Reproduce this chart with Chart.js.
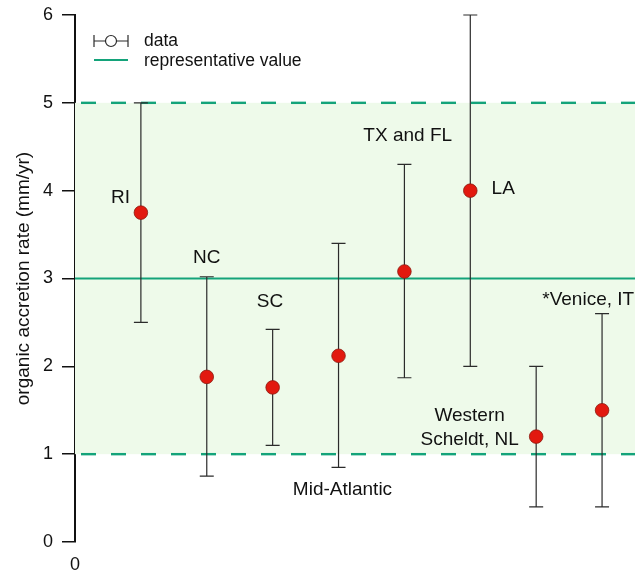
<!DOCTYPE html>
<html lang="en">
<head>
<meta charset="UTF-8">
<title>Organic accretion rate</title>
<script src="https://cdn.jsdelivr.net/npm/chart.js"></script>
<style>
  html, body { margin: 0; padding: 0; background: #fff; }
  #wrap { width: 639px; height: 571px; }
</style>
</head>
<body>
<div id="wrap"><canvas id="accretionChart" width="639" height="571"></canvas></div>
<script>
  // sites, plotted at x = 1..8
  const sites = ['RI', 'NC', 'SC', 'Mid-Atlantic', 'TX and FL', 'LA', 'Western\nScheldt, NL', '*Venice, IT'];
  const rates = [3.75, 1.88, 1.76, 2.12, 3.08, 4.0, 1.2, 1.5];
  const lowBars = [2.5, 0.75, 1.1, 0.85, 1.87, 2.0, 0.4, 0.4];
  const highBars = [5.0, 3.02, 2.42, 3.4, 4.3, 6.0, 2.0, 2.6];
  const representative = 3;
  const rangeLow = 1;
  const rangeHigh = 5;
  const yTicks = [0, 1, 2, 3, 4, 5, 6];

  const FONT = "'Liberation Sans', Arial, Helvetica, sans-serif";
  const TEAL = '#14a37a';
  const BAR = '#2b2b2b';

  // where each site name sits (data units, text centred)
  const labelSpots = [[0.69, 3.92], [2.0, 3.24], [2.96, 2.73], [4.06, 0.60], [5.05, 4.63], [6.5, 4.02], [5.99, 1.30], [7.79, 2.76]];

  const backdrop = {
    id: 'backdrop',
    beforeDatasetsDraw(chart) {
      const { ctx, chartArea: a, scales: { x, y } } = chart;
      const yHi = y.getPixelForValue(rangeHigh);
      const yLo = y.getPixelForValue(rangeLow);
      const yRep = y.getPixelForValue(representative);
      ctx.save();
      // shaded range
      ctx.fillStyle = '#eefaea';
      ctx.fillRect(a.left, yHi, a.right - a.left, yLo - yHi);
      // range limits
      ctx.strokeStyle = TEAL;
      ctx.lineWidth = 2.4;
      ctx.setLineDash([15, 15]);
      ctx.lineDashOffset = -6;
      [yHi, yLo].forEach(py => {
        ctx.beginPath(); ctx.moveTo(a.left, py); ctx.lineTo(a.right, py); ctx.stroke();
      });
      ctx.setLineDash([]);
      ctx.lineWidth = 2;
      ctx.beginPath(); ctx.moveTo(a.left, yRep); ctx.lineTo(a.right, yRep); ctx.stroke();

      // error bars
      ctx.strokeStyle = BAR;
      ctx.lineWidth = 1.2;
      rates.forEach((v, i) => {
        const px = x.getPixelForValue(i + 1);
        const p1 = y.getPixelForValue(lowBars[i]);
        const p2 = y.getPixelForValue(highBars[i]);
        ctx.beginPath();
        ctx.moveTo(px, p1); ctx.lineTo(px, p2);
        ctx.moveTo(px - 7, p1); ctx.lineTo(px + 7, p1);
        ctx.moveTo(px - 7, p2); ctx.lineTo(px + 7, p2);
        ctx.stroke();
      });

      // legend
      ctx.beginPath();
      ctx.moveTo(94, 41); ctx.lineTo(128, 41);
      ctx.moveTo(94, 35); ctx.lineTo(94, 47);
      ctx.moveTo(128, 35); ctx.lineTo(128, 47);
      ctx.stroke();
      ctx.fillStyle = '#fff';
      ctx.beginPath(); ctx.arc(111, 41, 5.5, 0, Math.PI * 2); ctx.fill(); ctx.stroke();
      ctx.strokeStyle = TEAL;
      ctx.lineWidth = 2;
      ctx.beginPath(); ctx.moveTo(94, 60); ctx.lineTo(128, 60); ctx.stroke();
      ctx.fillStyle = '#111';
      ctx.font = '17.5px ' + FONT;
      ctx.textAlign = 'left';
      ctx.textBaseline = 'middle';
      ctx.fillText('data', 144, 41);
      ctx.fillText('representative value', 144, 61);
      ctx.restore();
    },
    afterDatasetsDraw(chart) {
      const { ctx, scales: { x, y } } = chart;
      ctx.save();
      ctx.fillStyle = '#111';
      ctx.font = '19px ' + FONT;
      ctx.textAlign = 'center';
      ctx.textBaseline = 'middle';
      sites.forEach((name, i) => {
        const lines = name.split('\n');
        const cx = x.getPixelForValue(labelSpots[i][0]);
        const cy = y.getPixelForValue(labelSpots[i][1]);
        lines.forEach((t, k) => ctx.fillText(t, cx, cy + (k - (lines.length - 1) / 2) * 24));
      });
      ctx.restore();
    }
  };

  new Chart(document.getElementById('accretionChart'), {
    type: 'scatter',
    data: {
      datasets: [{
        label: 'data',
        data: rates.map((v, i) => ({ x: i + 1, y: v })),
        pointRadius: 6.8,
        pointHoverRadius: 6.8,
        pointBackgroundColor: '#e2190f',
        pointBorderColor: '#8a1a10',
        pointBorderWidth: 0.8
      }]
    },
    options: {
      responsive: false,
      animation: false,
      devicePixelRatio: 1,
      events: [],
      layout: { autoPadding: false, padding: { top: 15, right: 4, left: 0, bottom: 0 } },
      plugins: { legend: { display: false }, tooltip: { enabled: false } },
      scales: {
        x: {
          type: 'linear',
          min: 0,
          max: 8.5,
          afterFit(s) { s.height = 29; s.paddingLeft = 0; s.paddingRight = 0; },
          grid: { display: false },
          border: { display: false },
          ticks: {
            stepSize: 1,
            padding: 4,
            color: '#111',
            font: { family: FONT, size: 18 },
            maxRotation: 0,
            autoSkip: false,
            callback: v => (v === 0 ? '0' : '')
          }
        },
        y: {
          min: yTicks[0],
          max: yTicks[yTicks.length - 1],
          afterFit(s) { s.width = 75; s.paddingTop = 0; s.paddingBottom = 0; },
          afterBuildTicks(s) { s.ticks = yTicks.map(v => ({ value: v })); },
          grid: { drawOnChartArea: false, drawTicks: true, tickLength: 13, color: '#111', lineWidth: 1.5 },
          border: { display: true, color: '#111', width: 2 },
          ticks: { padding: 9, color: '#111', font: { family: FONT, size: 18 } },
          title: {
            display: true,
            text: 'organic accretion rate (mm/yr)',
            color: '#111',
            font: { family: FONT, size: 19 },
            padding: { top: 12, bottom: 0 }
          }
        }
      }
    },
    plugins: [backdrop]
  });
</script>
</body>
</html>
